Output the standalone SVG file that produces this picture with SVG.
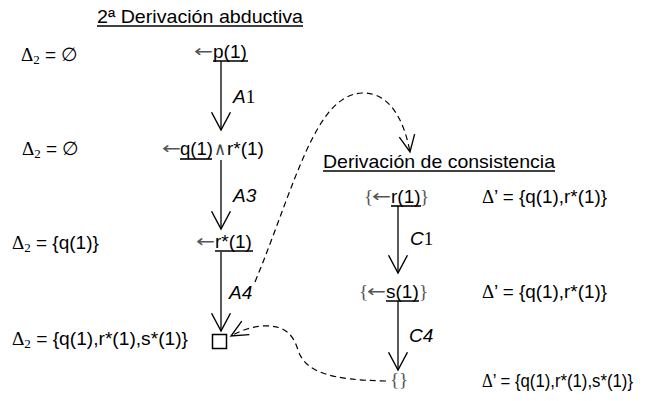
<svg xmlns="http://www.w3.org/2000/svg" width="660" height="401" viewBox="0 0 660 401">
<style>
text{font-family:"Liberation Sans",Arial,sans-serif;font-size:19px;fill:#000}
.s{font-family:"Liberation Serif","Times New Roman",serif}
.g{font-family:"Liberation Serif","Times New Roman",serif;fill:#555}
.la{font-family:"DejaVu Sans",sans-serif;font-size:17px;fill:#555}
.and{font-family:"Liberation Serif","Times New Roman",serif;font-size:18px;fill:#444}
.sub{font-family:"Liberation Serif","Times New Roman",serif;font-size:13px}
.it{font-style:italic}
.ul{stroke:#000;stroke-width:1.6}
.ar{fill:none;stroke:#000;stroke-width:1.3}
.ds{fill:none;stroke:#000;stroke-width:1.2;stroke-dasharray:6,4}
</style>
<defs>
<marker id="v" markerUnits="userSpaceOnUse" markerWidth="20" markerHeight="20" viewBox="0 0 17 18" refX="16" refY="9" orient="auto" overflow="visible">
<path d="M0,0.5 L16,9 L0,17.5" fill="none" stroke="#000" stroke-width="1.3"/>
</marker>
<marker id="vd" markerUnits="userSpaceOnUse" markerWidth="20" markerHeight="20" viewBox="0 0 17 18" refX="16" refY="9" orient="auto" overflow="visible">
<path d="M1,2 L16,9 L1,16" fill="none" stroke="#000" stroke-width="1.2"/>
</marker>
</defs>

<g id="title">
<text x="97" y="23" textLength="206" lengthAdjust="spacingAndGlyphs">2ª Derivación abductiva</text>
<line class="ul" x1="97" y1="26" x2="303" y2="26"/>
</g>

<g id="delta-1"><text x="21" y="61"><tspan class="s">Δ</tspan><tspan class="sub" dy="3">2</tspan><tspan dy="-3"> = </tspan><tspan class="s">∅</tspan></text></g>
<g id="delta-2"><text x="22" y="155"><tspan class="s">Δ</tspan><tspan class="sub" dy="3">2</tspan><tspan dy="-3"> = </tspan><tspan class="s">∅</tspan></text></g>
<g id="delta-3"><text x="12" y="249"><tspan class="s">Δ</tspan><tspan class="sub" dy="3">2</tspan><tspan dy="-3"> = {q(1)}</tspan></text></g>
<g id="delta-4"><text x="12" y="345" textLength="176" lengthAdjust="spacingAndGlyphs"><tspan class="s">Δ</tspan><tspan class="sub" dy="3">2</tspan><tspan dy="-3"> = {q(1),r*(1),s*(1)}</tspan></text></g>

<g id="goal-p">
<text class="la" x="194" y="57" textLength="19" lengthAdjust="spacingAndGlyphs">←</text>
<text x="213" y="58">p(1)</text>
<line class="ul" x1="213" y1="61" x2="248" y2="61"/>
</g>
<g id="goal-qr">
<text class="la" x="162" y="154" textLength="19" lengthAdjust="spacingAndGlyphs">←</text>
<text x="180" y="155" textLength="33" lengthAdjust="spacingAndGlyphs">q(1)</text>
<line class="ul" x1="180" y1="159" x2="212" y2="159"/>
<text class="and" x="214" y="155" textLength="12" lengthAdjust="spacingAndGlyphs">∧</text>
<text x="227" y="155">r*(1)</text>
</g>
<g id="goal-r">
<text class="la" x="196" y="247" textLength="19" lengthAdjust="spacingAndGlyphs">←</text>
<text x="215" y="248">r*(1)</text>
<line class="ul" x1="215" y1="251" x2="253" y2="251"/>
</g>
<g id="empty-clause">
<rect x="212.5" y="334.5" width="14" height="14" fill="none" stroke="#000" stroke-width="1.5"/>
</g>

<g id="consistency-title">
<text x="323" y="168" textLength="232" lengthAdjust="spacingAndGlyphs">Derivación de consistencia</text>
<line class="ul" x1="323" y1="171" x2="555" y2="171"/>
</g>
<g id="c-goal-r">
<text class="g" x="364" y="203">{</text>
<text class="la" x="372" y="202" textLength="19" lengthAdjust="spacingAndGlyphs">←</text>
<text x="391" y="203">r(1)</text>
<line class="ul" x1="391" y1="206" x2="421" y2="206"/>
<text class="g" x="420" y="203">}</text>
</g>
<g id="c-delta-1"><text x="482" y="203" textLength="125" lengthAdjust="spacingAndGlyphs"><tspan class="s">Δ</tspan>’ = {q(1),r*(1)}</text></g>
<g id="c-goal-s">
<text class="g" x="359" y="298">{</text>
<text class="la" x="367" y="297" textLength="19" lengthAdjust="spacingAndGlyphs">←</text>
<text x="386" y="298">s(1)</text>
<line class="ul" x1="386" y1="301" x2="419" y2="301"/>
<text class="g" x="419" y="298">}</text>
</g>
<g id="c-delta-2"><text x="482" y="298" textLength="125" lengthAdjust="spacingAndGlyphs"><tspan class="s">Δ</tspan>’ = {q(1),r*(1)}</text></g>
<g id="c-empty"><text class="g" x="390" y="386">{}</text></g>
<g id="c-delta-3"><text x="482" y="387" textLength="151" lengthAdjust="spacingAndGlyphs"><tspan class="s">Δ</tspan>’ = {q(1),r*(1),s*(1)}</text></g>

<g id="connectors">
<path class="ar" d="M221,61 V130" marker-end="url(#v)"/>
<text class="it" x="233" y="103">A<tspan class="s" font-style="normal">1</tspan></text>
<path class="ar" d="M221,160 V229" marker-end="url(#v)"/>
<text class="it" x="233" y="202">A3</text>
<path class="ar" d="M221,252 V331" marker-end="url(#v)"/>
<text class="it" x="229" y="299">A4</text>
<path class="ar" d="M398,206 V273" marker-end="url(#v)"/>
<text class="it" x="410" y="245">C<tspan class="s" font-style="normal">1</tspan></text>
<path class="ar" d="M398,301 V370" marker-end="url(#v)"/>
<text class="it" x="409" y="342">C4</text>
<path class="ds" d="M255,282 C295,185 315,95 362,93 C392,92 405,125 410,152" marker-end="url(#vd)"/>
<path class="ds" d="M386,381 C330,380 305,372 298,350 C292,330 280,325 262,326 C250,327 240,331 231,336" marker-end="url(#vd)"/>
</g>
</svg>
